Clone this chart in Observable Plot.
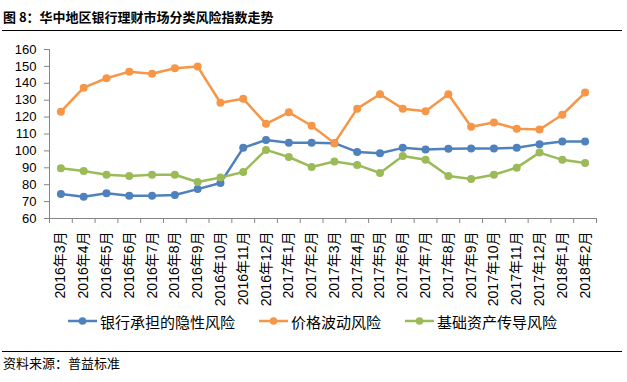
<!DOCTYPE html>
<html>
<head>
<meta charset="utf-8">
<script src="https://cdn.jsdelivr.net/npm/d3@7"></script>
<script src="https://cdn.jsdelivr.net/npm/@observablehq/plot@0.6"></script>
<style>
  body { margin: 0; background: #fff; font-family: "Liberation Sans", "Noto Sans CJK SC", sans-serif; color: #000; }
  #wrap { position: relative; width: 627px; height: 382px; overflow: hidden; background: #fff; }
  #title { position: absolute; left: 3px; top: 8px; font-size: 13px; font-weight: bold; line-height: 18px; white-space: nowrap; font-family: "Noto Sans CJK SC", sans-serif; }
  .rule { position: absolute; left: 2px; width: 620px; height: 0; border-top: 1.5px solid #000; }
  #chart { position: absolute; left: 0; top: 35px; }
  #legend { position: absolute; top: 311px; left: 68px; display: flex; align-items: center; height: 20px; }
  .item { display: flex; align-items: center; margin-right: 24px; }
  .item span { font-size: 15px; margin-left: 3px; font-family: "Noto Sans CJK SC", sans-serif; white-space: nowrap; }
  #footer { position: absolute; left: 3px; top: 354px; font-size: 13px; line-height: 18px; font-family: "Noto Sans CJK SC", sans-serif; }
</style>
</head>
<body>
<div id="wrap">
  <div id="title">图 8：华中地区银行理财市场分类风险指数走势</div>
  <div class="rule" style="top:30px"></div>
  <div id="chart"></div>
  <div id="legend"></div>
  <div class="rule" style="top:351px"></div>
  <div id="footer">资料来源：普益标准</div>
</div>
<script>
const months = ["2016年3月","2016年4月","2016年5月","2016年6月","2016年7月","2016年8月","2016年9月","2016年10月","2016年11月","2016年12月","2017年1月","2017年2月","2017年3月","2017年4月","2017年5月","2017年6月","2017年7月","2017年8月","2017年9月","2017年10月","2017年11月","2017年12月","2018年1月","2018年2月"];
const seriesNames = ["银行承担的隐性风险", "价格波动风险", "基础资产传导风险"];
const seriesColors = ["#4F81BD", "#F79646", "#9BBB59"];
const hiddenRisk = [74.5, 72.9, 75.0, 73.5, 73.5, 73.9, 77.4, 81.0, 101.8, 106.5, 104.8, 104.8, 104.6, 99.4, 98.6, 101.8, 100.8, 101.2, 101.4, 101.4, 101.8, 104.0, 105.5, 105.5];
const priceRisk = [123.2, 137.4, 143.0, 146.9, 145.7, 148.9, 149.9, 128.5, 130.9, 116.0, 122.8, 114.9, 104.6, 125.0, 133.5, 125.0, 123.4, 133.5, 114.3, 116.8, 113.1, 112.7, 121.4, 134.5];
const assetRisk = [89.7, 88.1, 85.9, 85.1, 85.9, 85.9, 81.6, 84.2, 87.5, 100.6, 96.4, 90.5, 93.7, 91.7, 86.9, 97.0, 94.7, 85.1, 83.4, 85.9, 90.1, 99.0, 94.7, 92.9];
const yTicks = [60, 70, 80, 90, 100, 110, 120, 130, 140, 150, 160];

const seriesValues = [hiddenRisk, priceRisk, assetRisk];
const rows = seriesNames.flatMap((name, s) =>
  seriesValues[s].map((v, i) => ({ series: name, x: i + 0.5, value: v }))
);

const axisGray = "#868686";
const chart = Plot.plot({
  width: 627,
  height: 280,
  marginLeft: 49,
  marginRight: 31,
  marginTop: 14,
  marginBottom: 97,
  style: { fontFamily: "'Liberation Sans', 'Noto Sans CJK SC', sans-serif", fontSize: "13px", color: "#000", background: "transparent" },
  x: { domain: [0, months.length], axis: null },
  y: { domain: [60, 160], axis: null },
  color: { domain: seriesNames, range: seriesColors },
  marks: [
    Plot.ruleX([0], { stroke: axisGray, strokeWidth: 1 }),
    Plot.ruleY([60], { stroke: axisGray, strokeWidth: 1 }),
    Plot.axisY(yTicks, { anchor: "left", label: null, tickSize: 5, tickPadding: 8, stroke: axisGray, fill: "#000", fontSize: 13, tickFormat: d => String(d) }),
    Plot.axisX(d3.range(months.length + 1), { anchor: "bottom", label: null, tickSize: 5, stroke: axisGray, tickFormat: () => "" }),
    Plot.axisX(d3.range(months.length).map(i => i + 0.5), {
      anchor: "bottom", label: null, tickSize: 0, tickPadding: 13, tickRotate: -90,
      textAnchor: "end", fill: "#000", fontSize: 14,
      tickFormat: d => months[Math.floor(d)]
    }),
    Plot.line(rows, { x: "x", y: "value", z: "series", stroke: "series", strokeWidth: 2.5 }),
    Plot.dot(rows, { x: "x", y: "value", fill: "series", r: 4, stroke: "none" })
  ]
});
document.getElementById("chart").appendChild(chart);

const legend = document.getElementById("legend");
seriesNames.forEach((name, s) => {
  const item = document.createElement("div");
  item.className = "item";
  item.innerHTML = `<svg width="29" height="20"><line x1="0" x2="29" y1="10" y2="10" stroke="${seriesColors[s]}" stroke-width="2.5"/><circle cx="14.5" cy="10" r="3.8" fill="${seriesColors[s]}"/></svg><span>${name}</span>`;
  legend.appendChild(item);
});
</script>
</body>
</html>
